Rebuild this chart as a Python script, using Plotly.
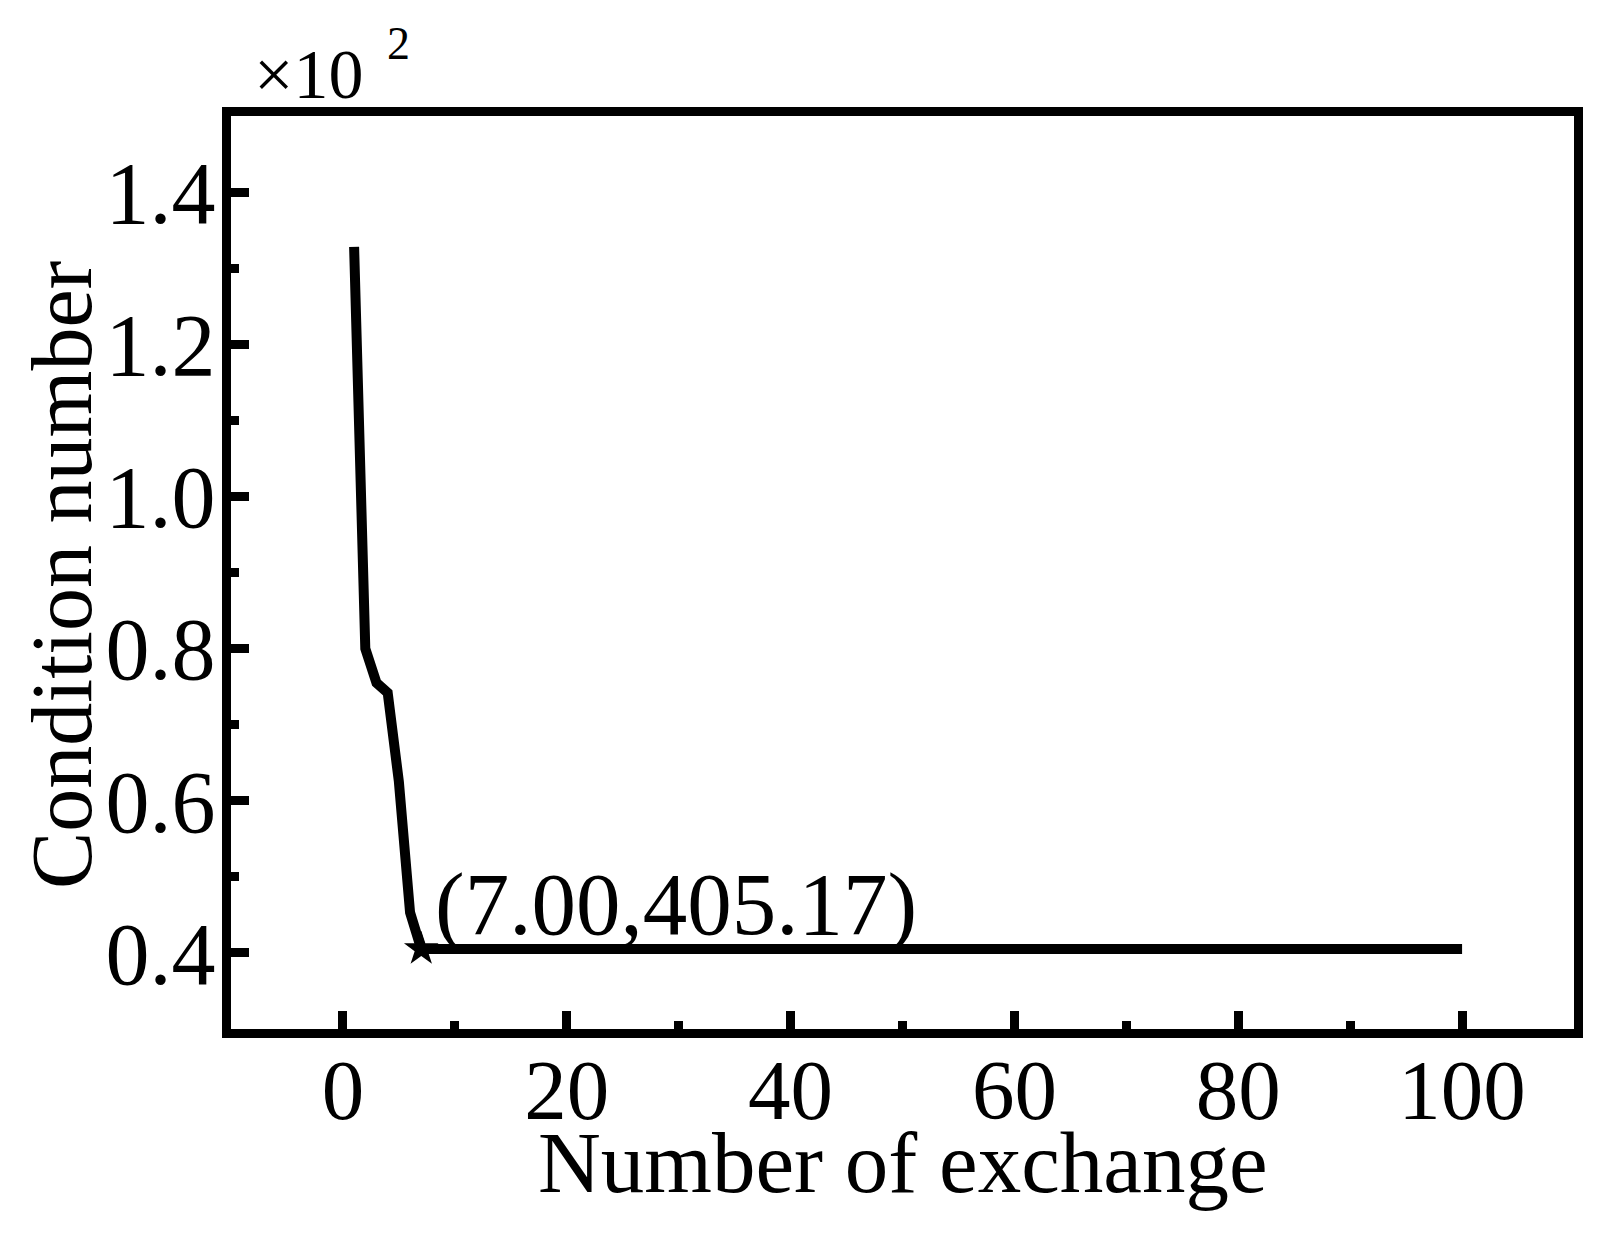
import plotly.graph_objects as go

# Data
exchange = [1, 2, 3, 4, 5, 6, 7, 100]
condition = [1328.0, 800.0, 755.0, 742.0, 625.0, 453.0, 405.17, 405.17]
marked_index = 6  # point (7.00, 405.17)

x_ticks = [0, 20, 40, 60, 80, 100]
y_ticks = [0.4, 0.6, 0.8, 1.0, 1.2, 1.4]

x_title = "Number of exchange"
y_title = "Condition number"

SCALE = 1000.0
y_plot = [v / SCALE for v in condition]

FONT = "Liberation Serif, Times New Roman, serif"

# geometry (figure pixels; the page adds an 8px body margin)
W, H = 1598, 1228
ML, MR, MT, MB = 222.5, 32, 107.5, 207.3
PW = W - ML - MR
PH = H - MT - MB

fig = go.Figure()
fig.add_trace(go.Scatter(
    x=exchange, y=y_plot, mode="lines",
    line=dict(color="black", width=10),
    showlegend=False,
))
fig.add_trace(go.Scatter(
    x=[exchange[marked_index]], y=[y_plot[marked_index]], mode="markers",
    marker=dict(symbol="star", size=26, color="black"),
    showlegend=False,
))

fig.add_annotation(
    x=exchange[marked_index], y=y_plot[marked_index], xref="x", yref="y",
    text="({:.2f},{:.2f})".format(exchange[marked_index], condition[marked_index]),
    showarrow=False, xanchor="left", yanchor="bottom",
    xshift=12, yshift=-6,
    font=dict(family=FONT, size=89, color="black"),
)
# axis multiplier "×10" with exponent
fig.add_annotation(
    x=(244 - ML) / PW, y=1.0, xref="paper", yref="paper",
    text="×10", showarrow=False,
    xanchor="left", yanchor="bottom", yshift=1,
    font=dict(family=FONT, size=70, color="black"),
)
fig.add_annotation(
    x=(377 - ML) / PW, y=1.0, xref="paper", yref="paper",
    text="2", showarrow=False,
    xanchor="left", yanchor="bottom", yshift=45,
    font=dict(family=FONT, size=46, color="black"),
)
# x-axis title
fig.add_annotation(
    x=0.5, y=-(1104 - (MT + PH)) / PH, xref="paper", yref="paper",
    text=x_title, showarrow=False,
    xanchor="center", yanchor="top",
    font=dict(family=FONT, size=87, color="black"),
)
# y-axis title
fig.add_annotation(
    x=(103 - ML) / PW, y=0.5, xref="paper", yref="paper",
    text=y_title, showarrow=False, textangle=-90,
    xanchor="right", yanchor="middle", yshift=-3,
    font=dict(family=FONT, size=86, color="black"),
)

axis_common = dict(
    showline=True, linewidth=9, linecolor="black", mirror=True,
    ticks="inside", ticklen=18, tickwidth=9, tickcolor="black",
    showgrid=False, zeroline=False,
)

fig.update_xaxes(
    range=[-10, 110], tickvals=x_ticks,
    tickfont=dict(family=FONT, size=85, color="black"),
    ticklabelstandoff=-21,
    minor=dict(ticks="inside", ticklen=8, tickwidth=9, tickcolor="black", dtick=10, tick0=0, showgrid=False),
    **axis_common,
)
fig.update_yaxes(
    range=[0.3, 1.5], tickvals=y_ticks, tickformat=".1f",
    tickfont=dict(family=FONT, size=88, color="black"),
    ticklabelstandoff=-11,
    minor=dict(ticks="inside", ticklen=8, tickwidth=9, tickcolor="black", dtick=0.1, tick0=0.3, showgrid=False),
    **axis_common,
)

fig.update_layout(
    width=W, height=H,
    margin=dict(l=ML, r=MR, t=MT, b=MB, autoexpand=False),
    plot_bgcolor="white", paper_bgcolor="white",
)

fig.write_html("out.html")
